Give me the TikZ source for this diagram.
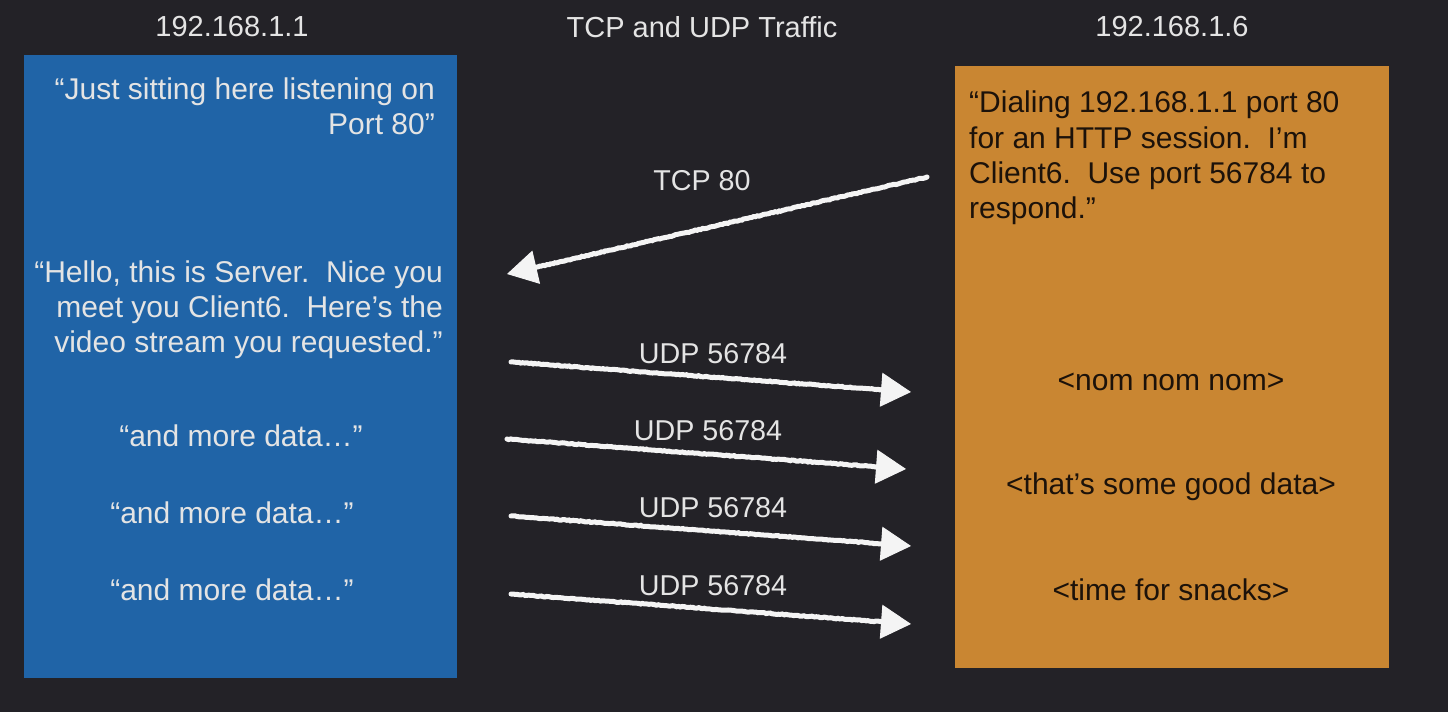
\documentclass[tikz,border=0pt]{standalone}
\usepackage{fontspec}
\setmainfont{Liberation Sans}
\usetikzlibrary{arrows.meta,decorations.pathmorphing,calc}
\definecolor{bg}{HTML}{232227}
\definecolor{boxblue}{HTML}{2064A7}
\definecolor{boxorange}{HTML}{C98632}
\definecolor{lighttext}{HTML}{E4E4E4}
\definecolor{darktext}{HTML}{1C120A}
\definecolor{chalk}{HTML}{F4F4F4}
\tikzset{
  title/.style={text=lighttext, font=\fontsize{29}{34}\selectfont, inner sep=0pt, anchor=center},
  bluetext/.style={text=lighttext, font=\fontsize{30}{35}\selectfont, inner sep=0pt},
  orangetext/.style={text=darktext, font=\fontsize{30}{35.3}\selectfont, inner sep=0pt},
  lbl/.style={text=lighttext, font=\fontsize{28.7}{32}\selectfont, inner sep=0pt},
  chalkarrow/.style={draw=chalk, line width=5pt, line cap=round,
    decorate, decoration={random steps, segment length=2pt, amplitude=0.45pt, post length=26pt},
    -{Triangle[length=30pt,width=34pt,line width=1pt]}},
}
\begin{document}
\begin{tikzpicture}[x=1pt,y=-1pt]
\fill[bg] (0,0) rectangle (1448,712);
\useasboundingbox (0,0) rectangle (1448,712);

% titles
\node[title] (t1) at (232,27) {192.168.1.1};
\node[title] (t2) at (702,27) {TCP and UDP Traffic};
\node[title] (t3) at (1172,27) {192.168.1.6};

% boxes
\fill[boxblue] (24,55) rectangle (457,678);
\node[inner sep=0pt, minimum width=433pt, minimum height=623pt] (server) at (240.5,366.5) {};
\fill[boxorange] (955,66) rectangle (1389,668);
\node[inner sep=0pt, minimum width=434pt, minimum height=602pt] (client) at (1172,367) {};

% server text
\node[bluetext, align=right, anchor=north east] (s1) at (435,78) {“Just sitting here listening on\\Port 80”};
\node[bluetext, align=right, anchor=north east] (s2) at (443,261) {“Hello, this is Server.\ \ Nice you\\meet you Client6.\ \ Here’s the\\video stream you requested.”};
\node[bluetext] (s3) at (241,436) {“and more data…”};
\node[bluetext] (s4) at (232,513) {“and more data…”};
\node[bluetext] (s5) at (232,590) {“and more data…”};

% client text
\node[orangetext, align=left, anchor=north west] (c1) at (969,91) {“Dialing 192.168.1.1 port 80\\for an HTTP session.\ \ I’m\\Client6.\ \ Use port 56784 to\\respond.”};
\node[orangetext] (c2) at (1171,382) {<nom nom nom>};
\node[orangetext] (c3) at (1171,487) {<that’s some good data>};
\node[orangetext] (c4) at (1171,590) {<time for snacks>};

% arrow endpoints
\coordinate (tA) at (927,177);  \coordinate (tB) at (507,274);
\coordinate (u1A) at (511,362); \coordinate (u1B) at (911,392);
\coordinate (u2A) at (507,439); \coordinate (u2B) at (906,469);
\coordinate (u3A) at (511,516); \coordinate (u3B) at (911,546);
\coordinate (u4A) at (511,594); \coordinate (u4B) at (911,624);

\draw[chalkarrow] (tA) -- (tB);
\draw[chalkarrow] (u1A) -- (u1B);
\draw[chalkarrow] (u2A) -- (u2B);
\draw[chalkarrow] (u3A) -- (u3B);
\draw[chalkarrow] (u4A) -- (u4B);

\node[lbl] (l0) at (702,181) {TCP 80};
\node[lbl] (l1) at (713,354) {UDP 56784};
\node[lbl] (l2) at (708,431) {UDP 56784};
\node[lbl] (l3) at (713,508) {UDP 56784};
\node[lbl] (l4) at (713,586) {UDP 56784};
\end{tikzpicture}
\end{document}
